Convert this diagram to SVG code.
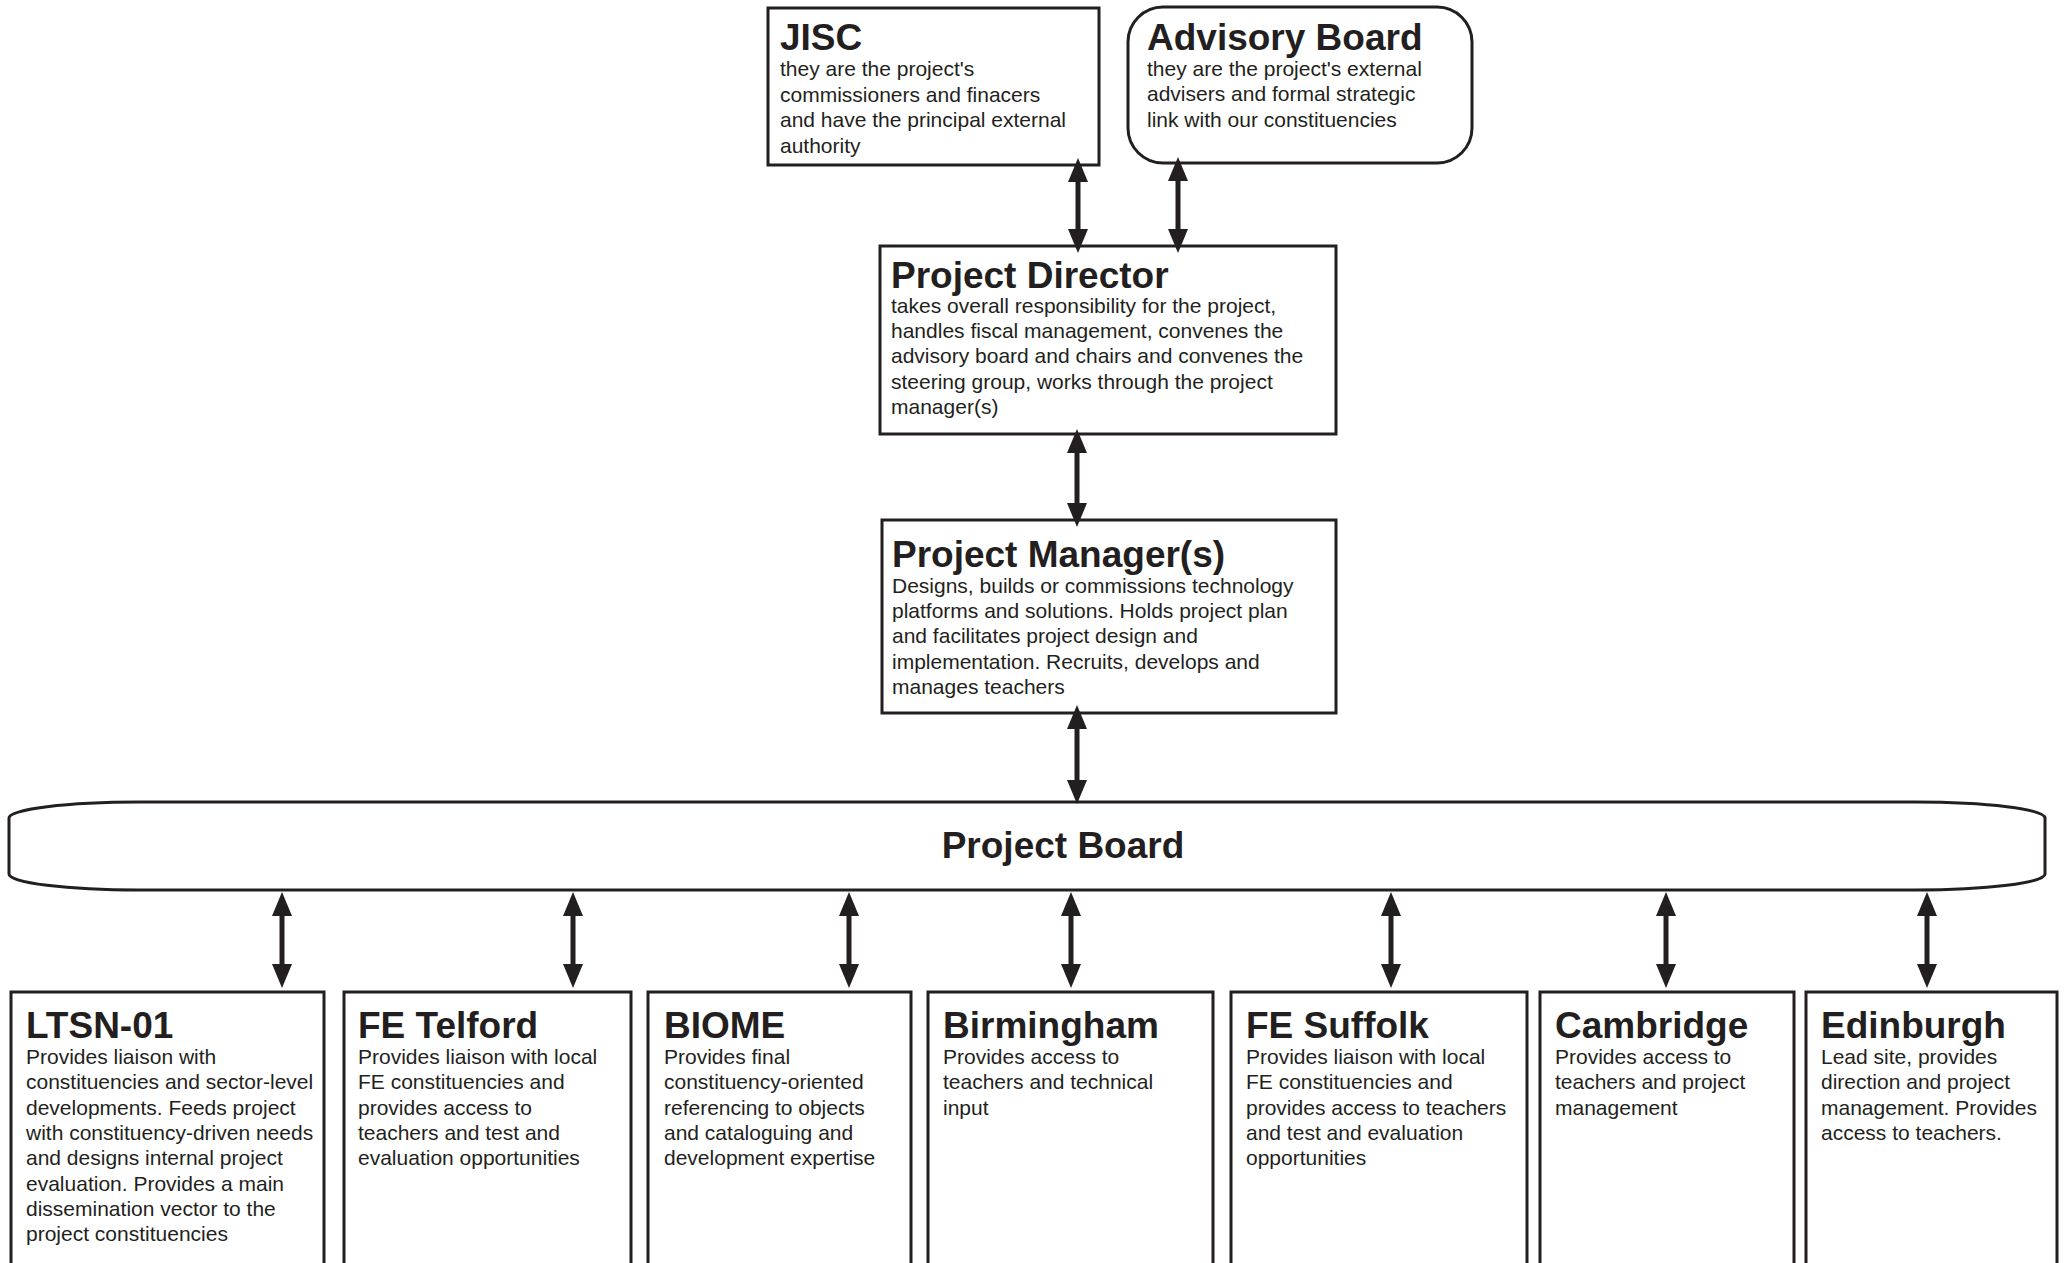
<svg xmlns="http://www.w3.org/2000/svg" width="2066" height="1263" viewBox="0 0 2066 1263">
<style>
.box{fill:#fff;stroke:#231f20;stroke-width:3}
.t{font-family:"Liberation Sans",Arial,sans-serif;font-weight:bold;font-size:37px;fill:#231f20}
.b{font-family:"Liberation Sans",Arial,sans-serif;font-size:21px;fill:#231f20}
.c{stroke:#231f20;stroke-width:5;fill:none;marker-start:url(#ah);marker-end:url(#ah)}
</style>
<defs>
<marker id="ah" viewBox="0 0 24 20" refX="0" refY="10" markerWidth="24" markerHeight="20" markerUnits="userSpaceOnUse" orient="auto-start-reverse">
<path d="M0,0 L24,10 L0,20 z" fill="#231f20"/>
</marker>
</defs>
<rect width="2066" height="1263" fill="#fff"/>

<g id="jisc">
<rect class="box" x="768" y="8" width="331" height="157"/>
<text class="t" x="780" y="50">JISC</text>
<text class="b" x="780" y="76">they are the project's</text>
<text class="b" x="780" y="102">commissioners and finacers</text>
<text class="b" x="780" y="127">and have the principal external</text>
<text class="b" x="780" y="153">authority</text>
</g>

<g id="advisory-board">
<rect class="box" x="1128" y="7" width="344" height="156" rx="35" ry="35"/>
<text class="t" x="1147" y="50">Advisory Board</text>
<text class="b" x="1147" y="76">they are the project's external</text>
<text class="b" x="1147" y="101">advisers and formal strategic</text>
<text class="b" x="1147" y="127">link with our constituencies</text>
</g>

<g id="project-director">
<rect class="box" x="880" y="246" width="456" height="188"/>
<text class="t" x="891" y="288">Project Director</text>
<text class="b" x="891" y="313">takes overall responsibility for the project,</text>
<text class="b" x="891" y="338">handles fiscal management, convenes the</text>
<text class="b" x="891" y="363">advisory board and chairs and convenes the</text>
<text class="b" x="891" y="389">steering group, works through the project</text>
<text class="b" x="891" y="414">manager(s)</text>
</g>

<g id="project-manager">
<rect class="box" x="882" y="520" width="454" height="193"/>
<text class="t" x="892" y="567">Project Manager(s)</text>
<text class="b" x="892" y="593">Designs, builds or commissions technology</text>
<text class="b" x="892" y="618">platforms and solutions. Holds project plan</text>
<text class="b" x="892" y="643">and facilitates project design and</text>
<text class="b" x="892" y="669">implementation. Recruits, develops and</text>
<text class="b" x="892" y="694">manages teachers</text>
</g>

<g id="project-board">
<rect class="box" x="9" y="802" width="2036" height="88" rx="130" ry="16"/>
<text class="t" x="1063" y="858" text-anchor="middle">Project Board</text>
</g>

<g id="ltsn-01">
<rect class="box" x="11" y="992" width="313" height="290"/>
<text class="t" x="26" y="1038">LTSN-01</text>
<text class="b" x="26" y="1064">Provides liaison with</text>
<text class="b" x="26" y="1089">constituencies and sector-level</text>
<text class="b" x="26" y="1115">developments. Feeds project</text>
<text class="b" x="26" y="1140">with constituency-driven needs</text>
<text class="b" x="26" y="1165">and designs internal project</text>
<text class="b" x="26" y="1191">evaluation. Provides a main</text>
<text class="b" x="26" y="1216">dissemination vector to the</text>
<text class="b" x="26" y="1241">project constituencies</text>
</g>

<g id="fe-telford">
<rect class="box" x="344" y="992" width="287" height="290"/>
<text class="t" x="358" y="1038">FE Telford</text>
<text class="b" x="358" y="1064">Provides liaison with local</text>
<text class="b" x="358" y="1089">FE constituencies and</text>
<text class="b" x="358" y="1115">provides access to</text>
<text class="b" x="358" y="1140">teachers and test and</text>
<text class="b" x="358" y="1165">evaluation opportunities</text>
</g>

<g id="biome">
<rect class="box" x="648" y="992" width="263" height="290"/>
<text class="t" x="664" y="1038">BIOME</text>
<text class="b" x="664" y="1064">Provides final</text>
<text class="b" x="664" y="1089">constituency-oriented</text>
<text class="b" x="664" y="1115">referencing to objects</text>
<text class="b" x="664" y="1140">and cataloguing and</text>
<text class="b" x="664" y="1165">development expertise</text>
</g>

<g id="birmingham">
<rect class="box" x="928" y="992" width="285" height="290"/>
<text class="t" x="943" y="1038">Birmingham</text>
<text class="b" x="943" y="1064">Provides access to</text>
<text class="b" x="943" y="1089">teachers and technical</text>
<text class="b" x="943" y="1115">input</text>
</g>

<g id="fe-suffolk">
<rect class="box" x="1231" y="992" width="296" height="290"/>
<text class="t" x="1246" y="1038">FE Suffolk</text>
<text class="b" x="1246" y="1064">Provides liaison with local</text>
<text class="b" x="1246" y="1089">FE constituencies and</text>
<text class="b" x="1246" y="1115">provides access to teachers</text>
<text class="b" x="1246" y="1140">and test and evaluation</text>
<text class="b" x="1246" y="1165">opportunities</text>
</g>

<g id="cambridge">
<rect class="box" x="1540" y="992" width="254" height="290"/>
<text class="t" x="1555" y="1038">Cambridge</text>
<text class="b" x="1555" y="1064">Provides access to</text>
<text class="b" x="1555" y="1089">teachers and project</text>
<text class="b" x="1555" y="1115">management</text>
</g>

<g id="edinburgh">
<rect class="box" x="1806" y="992" width="251" height="290"/>
<text class="t" x="1821" y="1038">Edinburgh</text>
<text class="b" x="1821" y="1064">Lead site, provides</text>
<text class="b" x="1821" y="1089">direction and project</text>
<text class="b" x="1821" y="1115">management. Provides</text>
<text class="b" x="1821" y="1140">access to teachers.</text>
</g>

<g id="connectors">
<path class="c" d="M1078,182 V229"/>
<path class="c" d="M1178,181 V229"/>
<path class="c" d="M1077,453 V503"/>
<path class="c" d="M1077,729 V780"/>
<path class="c" d="M282,916 V964"/>
<path class="c" d="M573,916 V964"/>
<path class="c" d="M849,916 V964"/>
<path class="c" d="M1071,916 V964"/>
<path class="c" d="M1391,916 V964"/>
<path class="c" d="M1666,916 V964"/>
<path class="c" d="M1927,916 V964"/>
</g>
</svg>
